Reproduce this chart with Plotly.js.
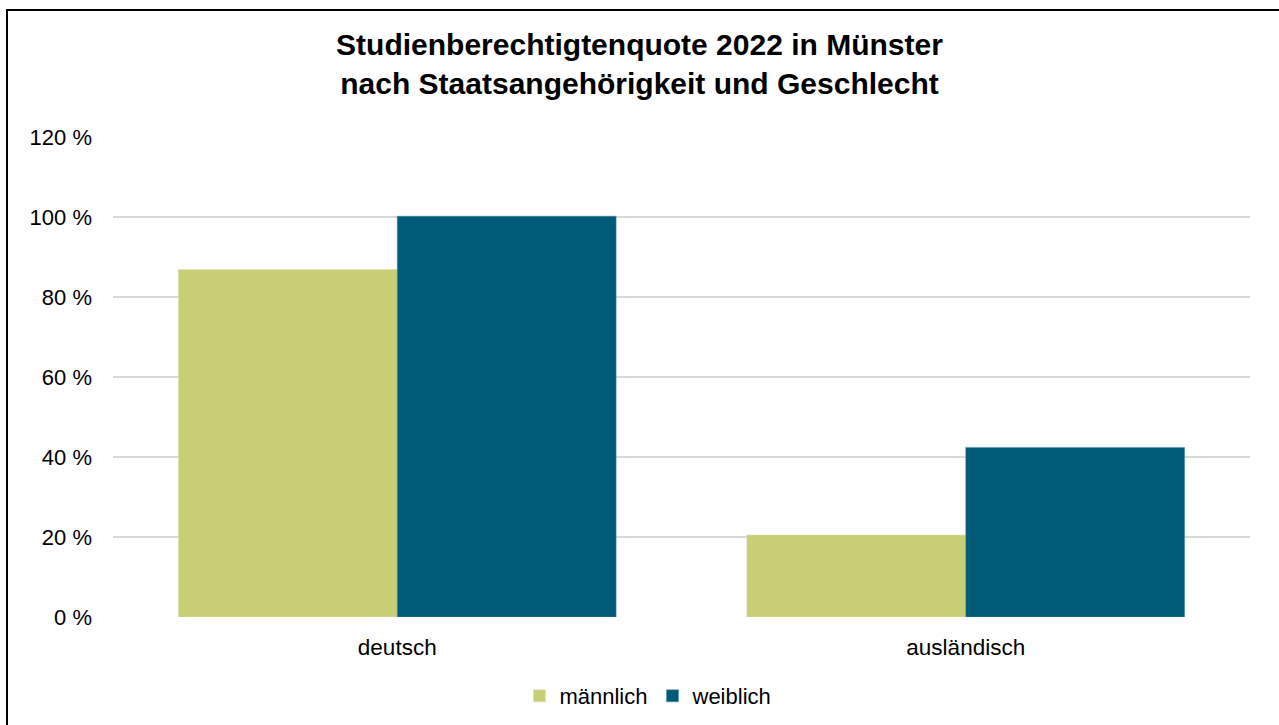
<!DOCTYPE html>
<html lang="de">
<head>
  <meta charset="UTF-8" />
  <title>Studienberechtigtenquote 2022</title>
  <script src="https://cdn.plot.ly/plotly-3.0.1.min.js"></script>
  <style>
    body {
      margin: 0;
      background-color: white;
      overflow: hidden;
    }

    #chart {
      position: absolute;
      left: 0;
      top: 0;
      width: 1279px;
      height: 725px;
    }

    /* frame line on top and left, like the original image */
    .frame {
      position: fixed;
      left: 6px;
      top: 9px;
      right: -10px;
      bottom: -10px;
      border-left: 2px solid #000;
      border-top: 2px solid #000;
      pointer-events: none;
    }
  </style>
</head>
<body>
  <div id="chart"></div>
  <div class="frame"></div>

  <script>
    const categories = ["deutsch", "ausländisch"];
    const maennlich = [86.9, 20.5];
    const weiblich = [100.2, 42.4];
    const yTicks = [0, 20, 40, 60, 80, 100, 120];

    const font = "Liberation Sans, Arial, sans-serif";

    const traces = [
      {
        type: "bar",
        name: "männlich",
        x: categories,
        y: maennlich,
        marker: { color: "#C8CE74", line: { color: "#dfe3b0", width: 0.5 } },
        hoverinfo: "y"
      },
      {
        type: "bar",
        name: "weiblich",
        x: categories,
        y: weiblich,
        marker: { color: "#005B78", line: { color: "#4f8da3", width: 0.5 } },
        hoverinfo: "y"
      }
    ];

    const layout = {
      width: 1279,
      height: 725,
      paper_bgcolor: "white",
      plot_bgcolor: "white",
      font: { family: font, color: "#000" },
      margin: { l: 113, r: 29, t: 137, b: 108 },
      barmode: "group",
      bargap: 0.23,
      bargroupgap: 0,
      title: {
        text: "<b>Studienberechtigtenquote 2022 in Münster<br>nach Staatsangehörigkeit und Geschlecht</b>",
        font: { family: font, size: 30, color: "#000" },
        x: 0.5,
        xanchor: "center",
        yref: "container",
        y: 0.924,
        yanchor: "middle"
      },
      xaxis: {
        type: "category",
        showgrid: false,
        showline: false,
        zeroline: false,
        ticks: "",
        ticklabelstandoff: 14,
        tickfont: { family: font, size: 22.5, color: "#000" }
      },
      yaxis: {
        range: [0, 120],
        tickvals: yTicks,
        ticktext: yTicks.map(v => v + " %"),
        showgrid: true,
        gridcolor: "#d9d9d9",
        gridwidth: 1.5,
        zeroline: false,
        showline: false,
        ticks: "",
        ticklabelstandoff: 20,
        tickfont: { family: font, size: 22, color: "#000" }
      },
      legend: {
        orientation: "h",
        xref: "container",
        x: 0.507,
        xanchor: "center",
        yref: "container",
        y: 0.04,
        yanchor: "middle",
        font: { family: font, size: 22, color: "#000" },
        itemwidth: 30
      },
      showlegend: true
    };

    Plotly.newPlot("chart", traces, layout, { displayModeBar: false, responsive: false });
  </script>
</body>
</html>
